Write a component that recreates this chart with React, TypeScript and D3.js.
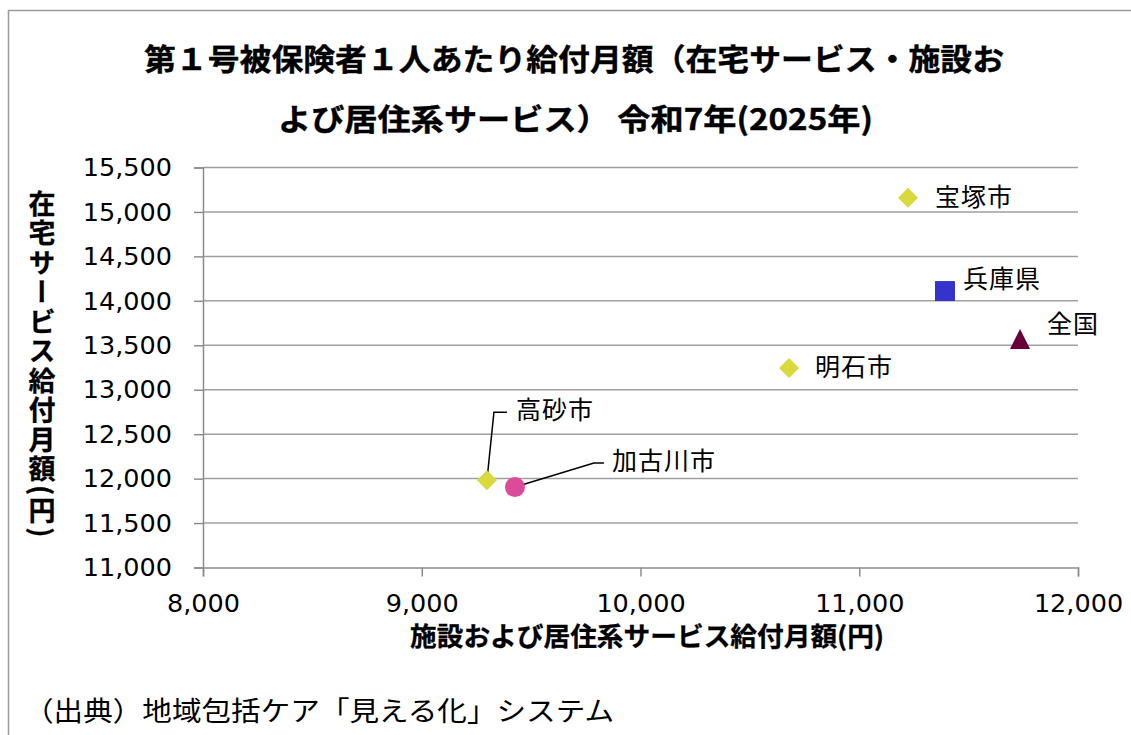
import React, { useEffect, useRef } from "react";
import * as d3 from "d3";

// Chart values
const areaNames = ["宝塚市", "兵庫県", "全国", "明石市", "高砂市", "加古川市"];
const facilityCost = [11223, 11392, 11735, 10679, 9298, 9426]; // x: 施設および居住系
const homeCost = [15160, 14110, 13570, 13245, 11982, 11905]; // y: 在宅
const markerShapes = ["diamond", "square", "triangle", "diamond", "diamond", "circle"];

const xTicks = [8000, 9000, 10000, 11000, 12000];
const yTicks = [11000, 11500, 12000, 12500, 13000, 13500, 14000, 14500, 15000, 15500];

const titleLines = [
  "第１号被保険者１人あたり給付月額（在宅サービス・施設お",
  "よび居住系サービス） 令和7年(2025年)",
];
const xAxisTitle = "施設および居住系サービス給付月額(円)";
const yAxisTitle = "在宅サービス給付月額(円)";
const sourceNote = "（出典）地域包括ケア「見える化」システム";

// styling / label layout (pixels, relative to each point)
const markerColors: Record<string, string> = {
  diamond: "#d9d93c",
  square: "#3434cc",
  triangle: "#670038",
  circle: "#dc4b9a",
};
const labelOffsets = [
  { dx: 27, dy: 8, leader: null },
  { dx: 18, dy: -3, leader: null },
  { dx: 27, dy: -6, leader: null },
  { dx: 26, dy: 8, leader: null },
  { dx: 29, dy: -61, leader: [[7, -68], [20, -68]] },
  { dx: 97, dy: -17, leader: [[79, -24], [89, -24]] },
];

const W = 1131;
const H = 735;
const FONT_JP = "'Noto Sans CJK JP', 'Noto Sans', sans-serif";
const FONT_NUM = "'DejaVu Sans', Verdana, sans-serif";

const App: React.FC = () => {
  const svgRef = useRef<SVGSVGElement>(null);

  useEffect(() => {
    if (!svgRef.current) return;
    const svg = d3.select(svgRef.current);
    svg.selectAll("*").remove();

    const plot = { left: 203, right: 1078, top: 167.5, bottom: 567.5 };

    const x = d3.scaleLinear().domain([8000, 12000]).range([plot.left, plot.right]);
    const y = d3.scaleLinear().domain([11000, 15500]).range([plot.bottom, plot.top]);

    // outer frame (runs off the right and bottom edges)
    svg
      .append("rect")
      .attr("x", 8.5)
      .attr("y", 10.5)
      .attr("width", W + 20)
      .attr("height", H + 20)
      .attr("fill", "white")
      .attr("stroke", "#9a9a9a")
      .attr("stroke-width", 1.5);

    // title
    const titleX = [144, 278];
    const titleLen = [860, 595];
    const titleY = [70, 130];
    titleLines.forEach((t, i) => {
      svg
        .append("text")
        .attr("x", titleX[i])
        .attr("y", titleY[i])
        .attr("textLength", titleLen[i])
        .attr("lengthAdjust", "spacingAndGlyphs")
        .style("font-family", FONT_JP)
        .style("font-weight", 700)
        .style("font-size", "30px")
        .style("fill", "#000")
        .style("stroke", "#000")
        .style("stroke-width", 0.4)
        .text(t);
    });

    // horizontal gridlines
    svg
      .append("g")
      .selectAll("line")
      .data(yTicks.filter((d) => d > 11000))
      .join("line")
      .attr("x1", plot.left)
      .attr("x2", plot.right)
      .attr("y1", (d) => y(d))
      .attr("y2", (d) => y(d))
      .attr("stroke", "#a0a0a0")
      .attr("stroke-width", 1.5);

    // axes
    const xAxis = svg
      .append("g")
      .attr("transform", `translate(0, ${plot.bottom})`)
      .call(
        d3
          .axisBottom(x)
          .tickValues(xTicks)
          .tickSize(9)
          .tickSizeOuter(9)
          .tickPadding(17)
          .tickFormat((d) => d3.format(",")(d as number))
      );
    const yAxis = svg
      .append("g")
      .attr("transform", `translate(${plot.left}, 0)`)
      .call(
        d3
          .axisLeft(y)
          .tickValues(yTicks)
          .tickSize(9)
          .tickSizeOuter(9)
          .tickPadding(22)
          .tickFormat((d) => d3.format(",")(d as number))
      );
    [xAxis, yAxis].forEach((a) => {
      a.selectAll("path, line").attr("stroke", "#8c8c8c").attr("stroke-width", 1.5);
      a.selectAll("text")
        .style("font-family", FONT_NUM)
        .style("font-size", "25.5px")
        .style("fill", "#000");
    });

    // axis titles
    svg
      .append("text")
      .attr("x", 410)
      .attr("y", 646)
      .attr("textLength", 474)
      .attr("lengthAdjust", "spacingAndGlyphs")
      .style("font-family", FONT_JP)
      .style("font-weight", 700)
      .style("font-size", "26px")
      .style("stroke", "#000")
      .style("stroke-width", 0.3)
      .text(xAxisTitle);

    svg
      .append("text")
      .attr("x", 42)
      .attr("y", 190)
      .style("writing-mode", "vertical-rl")
      .style("font-family", FONT_JP)
      .style("font-weight", 700)
      .style("font-size", "27px")
      .style("letter-spacing", "2.5px")
      .style("stroke", "#000")
      .style("stroke-width", 0.3)
      .text(yAxisTitle);

    // source note
    svg
      .append("text")
      .attr("x", 24)
      .attr("y", 721)
      .attr("textLength", 590)
      .attr("lengthAdjust", "spacingAndGlyphs")
      .style("font-family", FONT_JP)
      .style("font-size", "27px")
      .text(sourceNote);

    // markers
    const r = 10;
    const shapePath = (shape: string) => {
      if (shape === "diamond") return `M0,${-r}L${r},0L0,${r}L${-r},0Z`;
      if (shape === "square") return `M${-r},${-r}H${r}V${r}H${-r}Z`;
      if (shape === "triangle") return `M0,${-r}L${r},${r}H${-r}Z`;
      return d3.arc()({ innerRadius: 0, outerRadius: r, startAngle: 0, endAngle: 2 * Math.PI }) || "";
    };

    const points = areaNames.map((name, i) => ({
      name,
      px: x(facilityCost[i]),
      py: y(homeCost[i]),
      shape: markerShapes[i],
      layout: labelOffsets[i],
    }));

    const g = svg.append("g");
    points.forEach((p) => {
      if (p.layout.leader) {
        const path = d3.path();
        path.moveTo(p.px, p.py);
        p.layout.leader.forEach(([lx, ly]) => path.lineTo(p.px + lx, p.py + ly));
        g.append("path")
          .attr("d", path.toString())
          .attr("fill", "none")
          .attr("stroke", "#000")
          .attr("stroke-width", 1.5);
      }
    });
    points.forEach((p) => {
      g.append("path")
        .attr("transform", `translate(${p.px}, ${p.py})`)
        .attr("d", shapePath(p.shape))
        .attr("fill", markerColors[p.shape]);
      g.append("text")
        .attr("x", p.px + p.layout.dx)
        .attr("y", p.py + p.layout.dy)
        .style("font-family", FONT_JP)
        .style("font-size", "25px")
        .style("letter-spacing", "1px")
        .style("fill", "#000")
        .text(p.name);
    });
  }, []);

  return (
    <svg
      ref={svgRef}
      width={W}
      height={H}
      style={{ position: "absolute", left: 0, top: 0, background: "white" }}
    />
  );
};

export default App;
